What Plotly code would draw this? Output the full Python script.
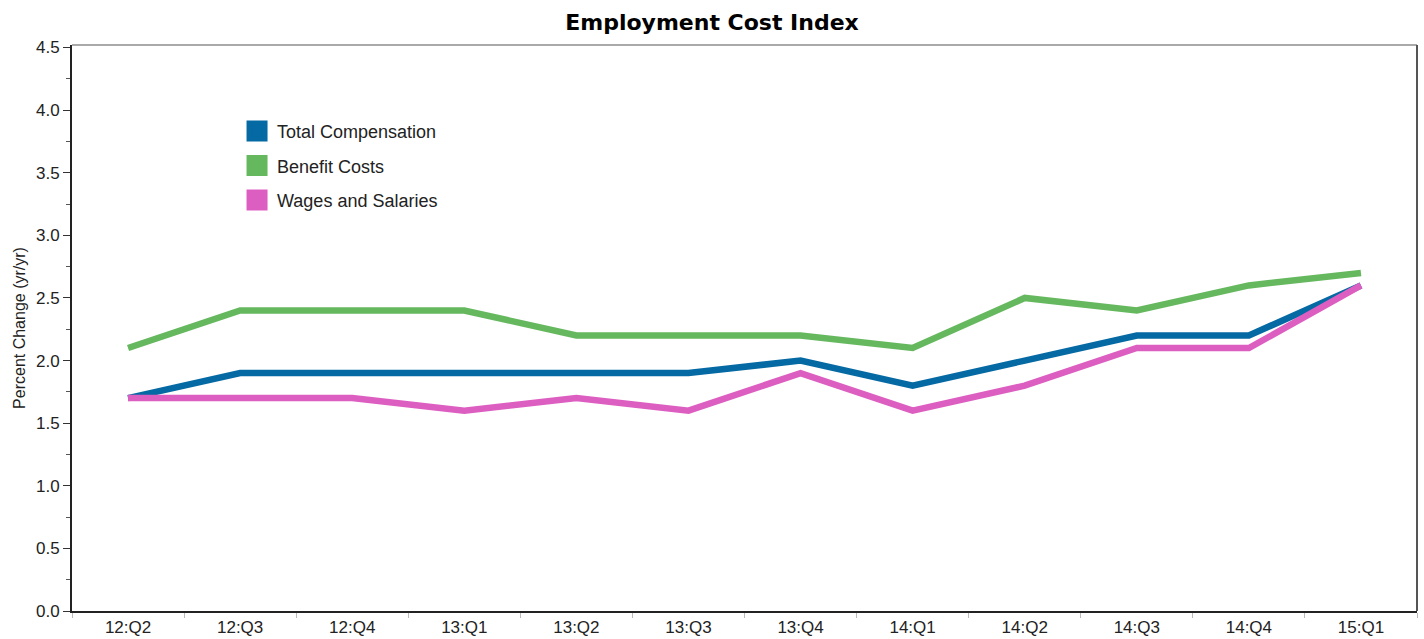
import plotly.graph_objects as go

categories = ["12:Q2", "12:Q3", "12:Q4", "13:Q1", "13:Q2", "13:Q3",
              "13:Q4", "14:Q1", "14:Q2", "14:Q3", "14:Q4", "15:Q1"]
total_comp = [1.7, 1.9, 1.9, 1.9, 1.9, 1.9, 2.0, 1.8, 2.0, 2.2, 2.2, 2.6]
benefit_costs = [2.1, 2.4, 2.4, 2.4, 2.2, 2.2, 2.2, 2.1, 2.5, 2.4, 2.6, 2.7]
wages_salaries = [1.7, 1.7, 1.7, 1.6, 1.7, 1.6, 1.9, 1.6, 1.8, 2.1, 2.1, 2.6]
y_ticks = [0.0, 0.5, 1.0, 1.5, 2.0, 2.5, 3.0, 3.5, 4.0, 4.5]

series = [
    ("Total Compensation", total_comp, "#0569a3"),
    ("Benefit Costs", benefit_costs, "#66b85f"),
    ("Wages and Salaries", wages_salaries, "#dd5ec1"),
]

fig = go.Figure()
# draw order: green, blue, pink (pink on top)
for idx in [1, 0, 2]:
    name, vals, col = series[idx]
    fig.add_trace(go.Scatter(x=categories, y=vals, mode="lines", name=name,
                             line=dict(color=col, width=6.5), showlegend=False,
                             hoverinfo="x+y+name"))
for i, (name, vals, col) in enumerate(series):
    fig.add_trace(go.Scatter(x=[None], y=[None], mode="markers", name=name,
                             legendgroup=f"g{i}",
                             marker=dict(symbol="square", size=16, color=col,
                                         line=dict(color=col, width=5)),
                             showlegend=True))

fig.update_layout(
    width=1424, height=639,
    margin=dict(l=72, r=7, t=45, b=28, autoexpand=False),
    paper_bgcolor="white", plot_bgcolor="white",
    title=dict(text="Employment Cost Index", x=0.5, xanchor="center",
               y=1 - 22 / 639, yanchor="middle", automargin=False,
               font=dict(family="DejaVu Sans", size=22, color="#000", weight=600)),
    font=dict(family="Liberation Sans, Arial, sans-serif", size=17, color="#222"),
    showlegend=True,
    legend=dict(x=0.1227, y=0.88, xanchor="left", yanchor="top",
                bgcolor="rgba(0,0,0,0)", font=dict(size=18, color="#222"),
                traceorder="grouped", tracegroupgap=8, itemsizing="trace"),
    xaxis=dict(type="category", categoryorder="array", categoryarray=categories,
               tickson="boundaries", ticks="outside", ticklen=5, tickcolor="#bbbbbb",
               showline=True, linecolor="#222", linewidth=2, showgrid=False,
               zeroline=False, tickfont=dict(size=17, color="#222"), range=[-0.5, 11.5],
               automargin=False),
    yaxis=dict(range=[0, 4.52], tickvals=y_ticks, ticktext=[f"{v:.1f}" for v in y_ticks],
               ticks="outside", ticklen=7, tickcolor="#333", showline=True,
               linecolor="#222", linewidth=2, showgrid=False, zeroline=False,
               automargin=False,
               minor=dict(dtick=0.25, tick0=0, ticks="outside", ticklen=4, tickcolor="#555"),
               title=dict(text="Percent Change (yr/yr)", font=dict(size=16, color="#222"),
                          standoff=6),
               tickfont=dict(size=17, color="#222")),
)
fig.add_shape(type="line", xref="paper", yref="paper", x0=0, x1=1, y0=1, y1=1,
              line=dict(color="#aaaaaa", width=2))
fig.add_shape(type="line", xref="paper", yref="paper", x0=1, x1=1, y0=0, y1=1,
              line=dict(color="#555555", width=2))

fig.write_html("out.html")
